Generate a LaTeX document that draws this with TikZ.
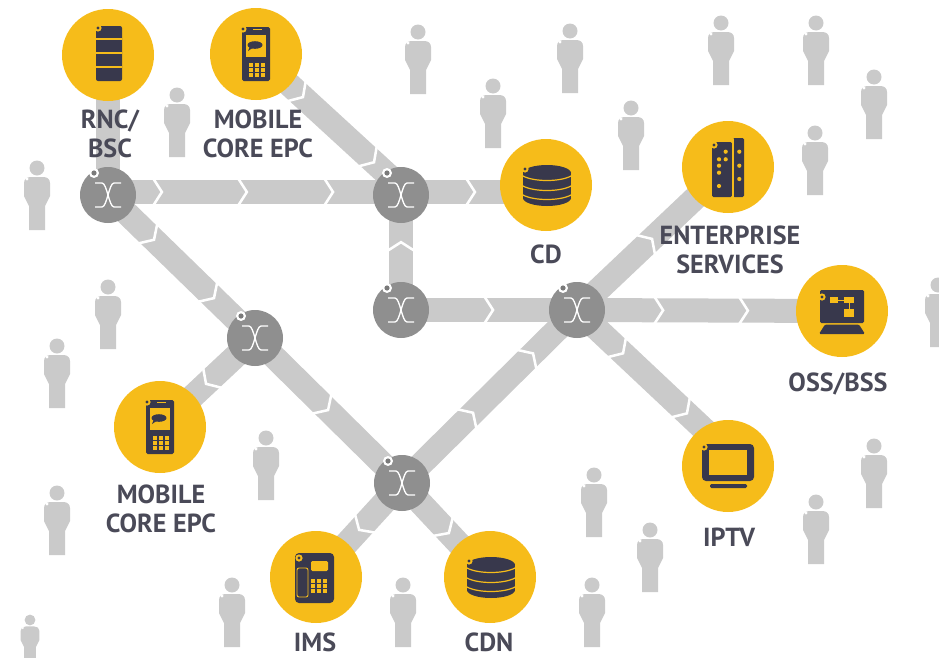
\documentclass[tikz,border=0pt]{standalone}
\usepackage{fontspec}
\setmainfont{PT Sans}
\usetikzlibrary{backgrounds,decorations.markings}
\definecolor{hubyellow}{HTML}{F6BC1A}
\definecolor{icondark}{HTML}{38384C}
\definecolor{textdark}{HTML}{4A4A58}
\definecolor{bandgray}{HTML}{CACACA}
\definecolor{switchgray}{HTML}{8F8F8F}
\tikzset{
  x=0.75pt,y=-0.75pt,
  hub/.style={circle,fill=hubyellow,minimum size=69pt,inner sep=0pt},
  switchnode/.style={circle,fill=switchgray,minimum size=42pt,inner sep=0pt},
  lbl/.style={font=\fontsize{19.6}{21.75}\selectfont\bfseries,text=textdark,align=center,inner sep=0pt},
  link/.style={draw=bandgray,line width=18pt},
  chevat/.style={postaction={decorate,decoration={markings,mark=at position #1 with {\draw[draw=white,line width=1.9pt,line join=miter] (-9,-14)--(0,0)--(-9,14);}}}},
  person/.pic={
    \fill[bandgray] (0,0) circle[radius=7.5];
    \fill[bandgray] (-8,62) -- (-8,38) -- (-13,28) -- (-13,15) .. controls (-13,11) and (-10,9) .. (-6,9) -- (6,9) .. controls (10,9) and (13,11) .. (13,15) -- (13,28) -- (8,38) -- (8,62) -- cycle;
    \fill[white] (-10,11) circle[radius=1.6];
  },
  ringmark/.pic={
    \fill[hubyellow] (0,0) circle[radius=3.6];
    \fill[icondark] (0,0) circle[radius=1.7];
  },
  crossmark/.pic={
    \draw[white,line width=1pt] (-13,-12) -- (-6,-12) .. controls (-1,-12) and (1,12) .. (6,12) -- (13,12);
    \draw[white,line width=1pt] (13,-12) -- (6,-12) .. controls (1,-12) and (-1,12) .. (-6,12) -- (-13,12);
    \fill[white] (-14,-22) circle[radius=5];
    \fill[switchgray!85!black] (-14,-22) circle[radius=2.6];
  },
  servericon/.pic={
    \fill[icondark,rounded corners=1.5pt] (-12,-29) rectangle (14,26);
    \foreach \yy in {-16,-2,12} \draw[hubyellow,line width=0.9pt] (-12,\yy) -- (14,\yy);
    \pic at (-10,-27) {ringmark};
  },
  phoneicon/.pic={
    \fill[icondark,rounded corners=1.2pt] (-14,-27) rectangle (14,27);
    \fill[hubyellow] (-10,-19) rectangle (10,3);
    \fill[icondark] (-1,-9) ellipse[x radius=7.5,y radius=3.8];
    \fill[icondark] (-6,-8) -- (-8,-3) -- (-2,-7) -- cycle;
    \fill[hubyellow] (-3,-25.5) rectangle (6,-24);
    \foreach \xx in {-7,-1,5} \foreach \yy in {9,14,19} \fill[hubyellow] (\xx,\yy) rectangle ++(4,3.6);
    \pic at (-13,-25) {ringmark};
  },
  dbicon/.pic={
    \fill[icondark] (1,-12) ellipse[x radius=24,y radius=8];
    \fill[icondark] (-23,-12) rectangle (25,13);
    \fill[icondark] (1,13) ellipse[x radius=24,y radius=8];
    \foreach \yy in {-9,1,10}
      \draw[hubyellow,line width=0.9pt] (-23,\yy) .. controls (-12,\yy+6) and (14,\yy+6) .. (25,\yy);
    \pic at (-21,-16) {ringmark};
  },
  buildingicon/.pic={
    \fill[icondark,rounded corners=1pt] (-16,-25) rectangle (4,30);
    \fill[icondark,rounded corners=1pt] (5,-29) rectangle (16,30);
    \draw[hubyellow,line width=0.8pt] (-9,-27) -- (5,-27) -- (5,30);
    \foreach \xx/\yy in {-2.3/-15.3,-2.3/-7.7,-9/-7.7,-9/-1.3,-9/5.7,-9/19,11.3/-15.3,11.3/-1.3,11.3/12}
      \fill[hubyellow] (\xx,\yy) circle[radius=2.1];
    \pic at (-14,-22) {ringmark};
  },
  computericon/.pic={
    \fill[icondark,rounded corners=1pt] (-22,-21) rectangle (22,12);
    \fill[icondark,rounded corners=1pt] (-17,13.5) -- (17,13.5) -- (23,23) -- (-23,23) -- cycle;
    \fill[hubyellow] (-12,-14) rectangle (-4,-8);
    \fill[hubyellow] (2,-14) rectangle (12,-8);
    \fill[hubyellow] (2,-2) rectangle (12,6);
    \draw[hubyellow,line width=0.7pt] (-4,-11) -- (2,-11) (7,-8) -- (7,-2);
    \pic at (-20,-14) {ringmark};
  },
  tvicon/.pic={
    \fill[icondark,rounded corners=3pt] (-26,-22) rectangle (26,15);
    \fill[hubyellow] (-19,-16) rectangle (19,9);
    \fill[icondark,rounded corners=1pt] (-18,18) rectangle (19,22);
    \pic at (-24,-19) {ringmark};
  },
  deskicon/.pic={
    \fill[icondark,rounded corners=3pt] (-21,-24) rectangle (18,26);
    \draw[hubyellow,line width=0.7pt,rounded corners=1.5pt] (-19,-9) rectangle (-8,20);
    \fill[hubyellow,rounded corners=1pt] (-5,-16) rectangle (12,-6);
    \foreach \xx in {-5,1,7} \foreach \yy in {2,7,12} \fill[hubyellow] (\xx,\yy) rectangle ++(4,3.6);
    \pic at (-17,-19) {ringmark};
  },
}
\begin{document}
\begin{tikzpicture}
\useasboundingbox (0,0) rectangle (939,657);
% people
\foreach \px/\py in {37/168,177/95,418/32,570/31,493/86,631/108,721/23,816/23,874/77,815/133,108/287,57/346,57/493,266/438,938/285,594/475,650/530,874/446,816/502,592/585,403/585,232/585}
  \pic at (\px,\py) {person};
\pic[scale=0.72] at (30,620) {person};
% hubs
\node[hub] (rnc) at (108,55) {};
\node[hub] (mobileA) at (256,54) {};
\node[hub] (cd) at (546,185) {};
\node[hub] (ent) at (728,167) {};
\node[hub] (oss) at (842,311) {};
\node[hub] (iptv) at (728,466) {};
\node[hub] (cdn) at (490,577) {};
\node[hub] (ims) at (316,577) {};
\node[hub] (mobileB) at (160,427) {};
% switches
\node[switchnode] (sa) at (108,195) {};
\node[switchnode] (sb) at (401,195) {};
\node[switchnode] (sc) at (401,310) {};
\node[switchnode] (sd) at (577,310) {};
\node[switchnode] (se) at (255,338) {};
\node[switchnode] (sf) at (402,483) {};
\foreach \nn in {sa,sb,sc,sd,se,sf} \pic at (\nn) {crossmark};
% links
\begin{scope}[on background layer]
\draw[link] (rnc.center) -- (sa.center);
\draw[link,chevat=.184,chevat=.474,chevat=.768] ([yshift=2.25pt]sa.center) -- ([yshift=2.25pt]sb.center);
\draw[link,chevat=.51] ([yshift=2.25pt]sb.center) -- ([yshift=-5.25pt]cd.center);
\draw[link,chevat=.324,chevat=.814] (mobileA.center) -- ([yshift=6pt]sb.center);
\draw[link,chevat=.59] (sc.center) -- (sb.center);
\draw[link,chevat=.523] (sc.center) -- (sd.center);
\draw[link,chevat=.325,chevat=.645] (sd.center) -- (oss.center);
\draw[link,chevat=.497] (sd.center) -- (ent.center);
\draw[link,chevat=.305,chevat=.728] (sd.center) -- ([yshift=10.5pt]iptv.center);
\draw[link,chevat=.406,chevat=.749] (sf.center) -- (sd.center);
\draw[link,chevat=.313,chevat=.721] (sa.center) -- (se.center);
\draw[link,chevat=.497] (se.center) -- (sf.center);
\draw[link,chevat=.516] (se.center) -- (mobileB.center);
\draw[link,chevat=.5] (sf.center) -- (ims.center);
\draw[link,chevat=.534] (sf.center) -- (cdn.center);
\end{scope}
% icons
\pic at (rnc) {servericon};
\pic at (mobileA) {phoneicon};
\pic at (mobileB) {phoneicon};
\pic at (cd) {dbicon};
\pic at (cdn) {dbicon};
\pic at (ent) {buildingicon};
\pic at (oss) {computericon};
\pic at (iptv) {tvicon};
\pic at (ims) {deskicon};
% labels
\node[lbl] (lrnc) at (110,134) {RNC/\\BSC};
\node[lbl] (lmobA) at (258,134) {MOBILE\\CORE EPC};
\node[lbl] (lmobB) at (161,509) {MOBILE\\CORE EPC};
\node[lbl] (lcd) at (546,254) {CD};
\node[lbl] (lent) at (730,250) {ENTERPRISE\\SERVICES};
\node[lbl] (loss) at (838,384) {OSS/BSS};
\node[lbl] (liptv) at (729,537) {IPTV};
\node[lbl] (lims) at (315,642) {IMS};
\node[lbl] (lcdn) at (489,642) {CDN};
\end{tikzpicture}
\end{document}
